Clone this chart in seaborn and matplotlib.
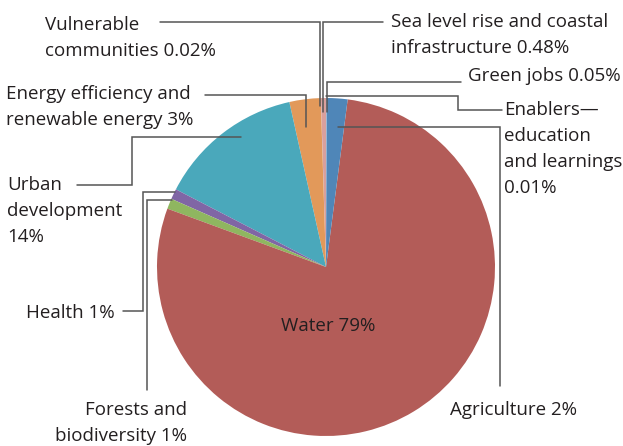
import matplotlib
matplotlib.use("Agg")
import matplotlib.pyplot as plt
import seaborn as sns

# Shares of climate finance by sector (%), listed counter-clockwise from 12 o'clock
sectors = [
    "Sea level rise and coastal infrastructure",
    "Vulnerable communities",
    "Energy efficiency and renewable energy",
    "Urban development",
    "Health",
    "Forests and biodiversity",
    "Water",
    "Agriculture",
    "Green jobs",
    "Enablers—education and learnings",
]
shares = [0.48, 0.02, 3, 14, 1, 1, 79, 2, 0.05, 0.01]
colors = [
    "#d9a09d", "#c9b3d6", "#e2995a", "#4aa8bb", "#8066a5",
    "#8fb660", "#b35c58", "#4f86b8", "#7fa8cf", "#c4c4c4",
]

sns.set_theme(style="white")
plt.rcParams["font.family"] = ["Open Sans", "DejaVu Sans"]

W, H = 623, 446
fig = plt.figure(figsize=(W / 100, H / 100), dpi=100)
ax = fig.add_axes([0, 0, 1, 1])

def px(x, y):
    """Convert image-style pixel coordinates (y down) to axis coordinates."""
    return x, H - y

cx, cy = px(326, 267)
ax.pie(shares, colors=colors, startangle=90, counterclock=True,
       center=(cx, cy), radius=169, normalize=True,
       wedgeprops=dict(linewidth=0))

ax.set_xlim(0, W)
ax.set_ylim(0, H)
ax.set_aspect("equal")
ax.axis("off")

text_kw = dict(fontsize=13.5, color="#231f20", linespacing=1.58)
line_kw = dict(color="#555555", lw=1.1, solid_joinstyle="miter")

def leader(points):
    xs, ys = zip(*[px(x, y) for x, y in points])
    ax.plot(xs, ys, **line_kw)

def label(x, y, s, ha="left", va="top"):
    X, Y = px(x, y)
    ax.text(X, Y, s, ha=ha, va=va, **text_kw)

# Labels
label(45, 16, "Vulnerable\ncommunities 0.02%")
label(6, 85, "Energy efficiency and\nrenewable energy 3%")
label(391, 13, "Sea level rise and coastal\ninfrastructure 0.48%")
label(468, 67, "Green jobs 0.05%")
label(504, 101, "Enablers—\neducation\nand learnings\n0.01%")
label(7, 176, "Urban\ndevelopment\n14%")
label(115, 304, "Health 1%", ha="right")
label(187, 401, "Forests and\nbiodiversity 1%", ha="right")
label(450, 401, "Agriculture 2%")
label(328, 317, "Water 79%", ha="center")

# Leader lines
leader([(160, 22), (320, 22), (320, 106)])
leader([(383, 22), (323, 22), (323, 112)])
leader([(461, 82), (327, 82), (327, 112)])
leader([(326, 96), (458, 96), (458, 110), (502, 110)])
leader([(338, 127), (500, 127), (500, 386)])
leader([(205, 95), (306, 95), (306, 127)])
leader([(77, 185), (132, 185), (132, 137), (241, 137)])
leader([(175, 192), (143, 192), (143, 311), (123, 311)])
leader([(172, 200), (147, 200), (147, 390)])

fig.savefig("out.png", dpi=100)
